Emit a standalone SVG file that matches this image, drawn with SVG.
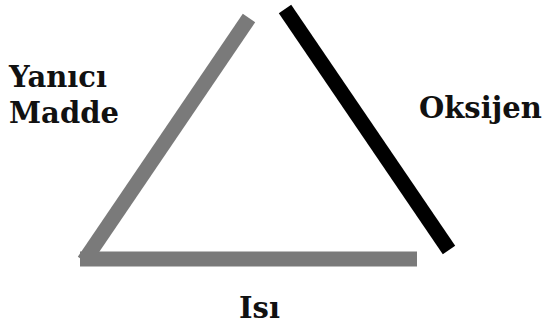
<svg xmlns="http://www.w3.org/2000/svg" width="544" height="325" viewBox="0 0 544 325">
<style>
.lbl{font-family:"DejaVu Serif","Liberation Serif",serif;font-weight:bold;font-size:29px;fill:#111}
.grey{stroke:#7a7a7a;stroke-width:15;stroke-linecap:butt;fill:none}
.black{stroke:#000;stroke-width:15;stroke-linecap:butt;fill:none}
</style>
<rect width="544" height="325" fill="#fff"/>
<g id="bars">
<line class="grey" x1="249" y1="18" x2="84" y2="261"/>
<line class="grey" x1="80" y1="259" x2="417" y2="259"/>
<line class="black" x1="285" y1="9" x2="449" y2="250"/>
</g>
<g id="yanici"><text class="lbl" x="9" y="87">Yanıcı</text><text class="lbl" x="9" y="123">Madde</text></g>
<g id="oksijen"><text class="lbl" x="419" y="118">Oksijen</text></g>
<g id="isi"><text class="lbl" x="239" y="318">Isı</text></g>
</svg>
